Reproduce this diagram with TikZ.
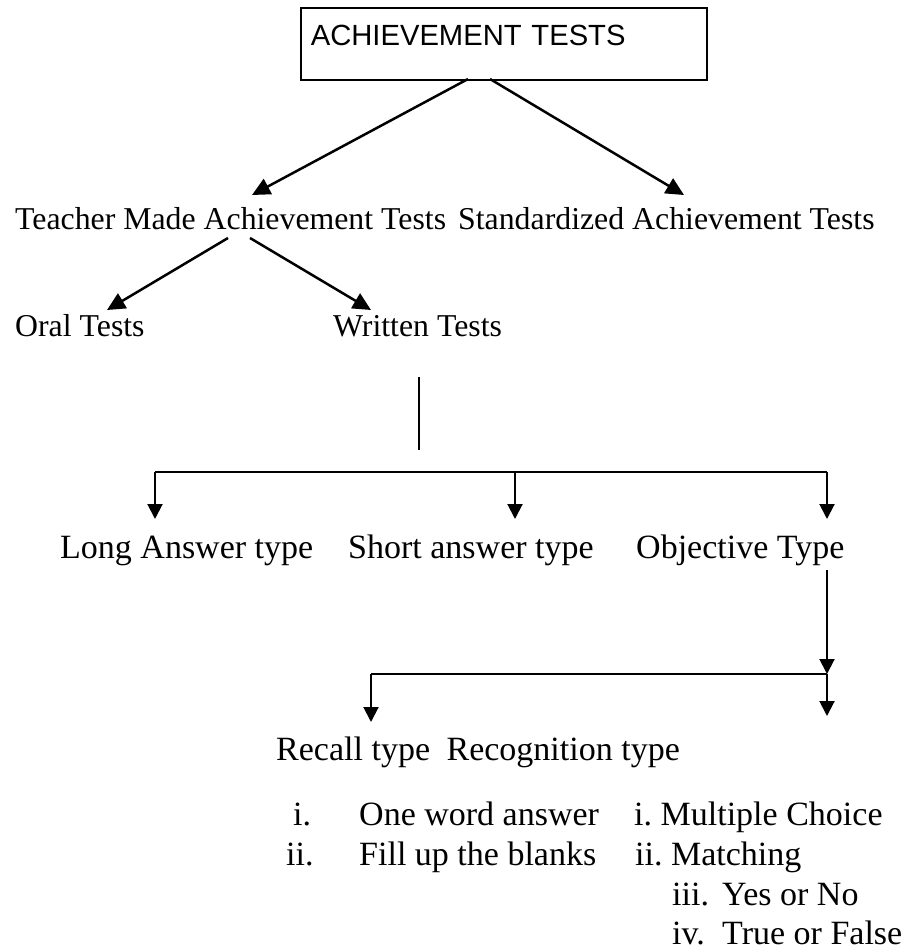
\documentclass[tikz,border=0pt]{standalone}
\usepackage{fontspec}
\setmainfont{Liberation Serif}
\newfontfamily\boxfont{Liberation Sans}
\usetikzlibrary{arrows.meta}
\begin{document}
\frenchspacing
\begin{tikzpicture}[x=1pt,y=-1pt,
  lbl/.style={anchor=base west, inner sep=0pt, font=\fontsize{31.8}{38}\selectfont},
  lbig/.style={lbl, font=\fontsize{34}{40}\selectfont},
  diag/.style={line width=2.5pt, -{Triangle[length=18pt,width=17pt]}},
  drop/.style={line width=2pt, -{Triangle[length=15pt,width=15pt]}},
  bar/.style={line width=1.6pt},
  titlebox/.style={draw, line width=1.6pt, anchor=north west, text width=386pt,
    inner xsep=10pt, inner ysep=0pt, text height=38pt, text depth=34pt,
    align=left, font=\boxfont\fontsize{29.2}{35}\selectfont}]
\useasboundingbox (0,0) rectangle (907,952);

% title box
\node[titlebox] (root) at (300,7) {ACHIEVEMENT TESTS};

% first level
\node[lbl] (teacher) at (15,229) {Teacher Made Achievement Tests};
\node[lbl] (std) at (458,229) {Standardized Achievement Tests};

% second level
\node[lbl] (oral) at (15,336) {Oral Tests};
\node[lbl] (written) at (333,336) {Written Tests};

% kinds of written tests
\node[lbig] (long) at (60,558) {Long Answer type};
\node[lbig] (short) at (348,558) {Short answer type};
\node[lbig] (objective) at (636,558) {Objective Type};

% kinds of objective tests
\node[lbig] (recall) at (276,760) {Recall type};
\node[lbig, anchor=base east] (recognition) at (680,760) {Recognition type};

% item lists
\node[lbig] (ri) at (293,825) {i.};
\node[lbig] (rione) at (359,825) {One word answer};
\node[lbig] (rii) at (286,865) {ii.};
\node[lbig] (riifill) at (359,865) {Fill up the blanks};
\node[lbig] (gi) at (634,825) {i. Multiple Choice};
\node[lbig] (gii) at (635,865) {ii. Matching};
\node[lbig] (giii) at (672,905) {iii.};
\node[lbig] (giiitext) at (722,905) {Yes or No};
\node[lbig] (giv) at (672,944) {iv.};
\node[lbig] (givtext) at (722,944) {True or False};

% connector end points
\coordinate (rootA) at (468,79);
\coordinate (rootB) at (490,79);
\coordinate (teacherIn) at (252,195);
\coordinate (stdIn) at (684,195);
\coordinate (teacherA) at (228,238);
\coordinate (teacherB) at (250,238);
\coordinate (oralIn) at (107,310);
\coordinate (writtenIn) at (371,310);
\coordinate (writtenOut) at (419,377);
\coordinate (writtenEnd) at (419,450);
\coordinate (busL) at (155,472);
\coordinate (busM) at (515,472);
\coordinate (busR) at (827,472);
\coordinate (longIn) at (155,519);
\coordinate (shortIn) at (515,519);
\coordinate (objIn) at (827,519);
\coordinate (objOut) at (827,570);
\coordinate (bus2R) at (827,674);
\coordinate (bus2L) at (371,674);
\coordinate (recallIn) at (371,722);
\coordinate (recogIn) at (827,716);

% connectors
\draw[diag] (rootA) -- (teacherIn);
\draw[diag] (rootB) -- (stdIn);
\draw[diag] (teacherA) -- (oralIn);
\draw[diag] (teacherB) -- (writtenIn);
\draw[line width=1.4pt] (writtenOut) -- (writtenEnd);
\draw[bar] (busL) -- (busR);
\draw[drop] (busL) -- (longIn);
\draw[drop] (busM) -- (shortIn);
\draw[drop] (busR) -- (objIn);
\draw[drop] (objOut) -- (bus2R);
\draw[bar] (bus2L) -- (bus2R);
\draw[drop] (bus2L) -- (recallIn);
\draw[drop] (bus2R) -- (recogIn);
\end{tikzpicture}
\end{document}
